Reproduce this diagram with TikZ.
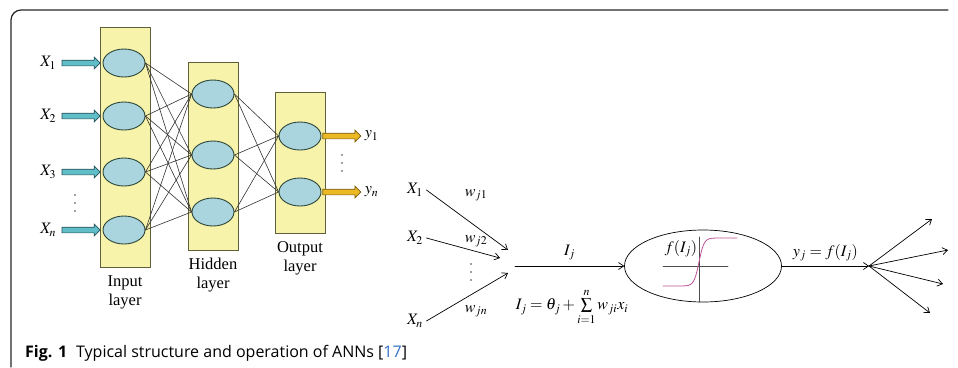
\documentclass[tikz,border=0pt]{standalone}
\usepackage{mathptmx}
\usepackage{fontspec}
\setmainfont{Liberation Serif}
\newfontfamily\captionfont{Open Sans}
\usetikzlibrary{arrows.meta, positioning, shapes.geometric, shapes.arrows}

\begin{document}
\begin{tikzpicture}[x=1pt, y=-1pt, line cap=round,
    %Style
    layer box/.style={draw=boxline, fill=boxfill, line width=0.9pt, minimum width=50pt},
    neuron/.style={ellipse, draw=cellline, fill=cellfill, line width=0.9pt,
                   minimum width=42pt, minimum height=28pt, inner sep=0pt},
    link/.style={draw=linkcolor, line width=0.6pt},
    in arrow/.style={single arrow, draw=inline, fill=infill, line width=0.7pt,
                     minimum height=38pt, minimum width=11pt, inner sep=2.5pt,
                     single arrow head extend=3pt},
    out arrow/.style={in arrow, draw=outline, fill=outfill},
    layer label/.style={align=center, font=\fontsize{16.5}{19}\selectfont},
    math label/.style={font=\fontsize{16}{18}\selectfont},
    dot/.style={circle, fill=black!75, inner sep=0pt, minimum size=1.6pt},
    signal/.style={line width=0.7pt, -{Straight Barb[length=5pt, width=7pt]}}]
    %Colors
    \definecolor{boxfill}{RGB}{248,243,170}
    \definecolor{boxline}{RGB}{95,95,60}
    \definecolor{cellfill}{RGB}{170,212,222}
    \definecolor{cellline}{RGB}{45,70,55}
    \definecolor{linkcolor}{RGB}{50,50,50}
    \definecolor{infill}{RGB}{95,190,200}
    \definecolor{inline}{RGB}{40,80,90}
    \definecolor{outfill}{RGB}{235,185,35}
    \definecolor{outline}{RGB}{120,90,20}
    \definecolor{sigcolor}{RGB}{190,80,150}
    \definecolor{citeblue}{RGB}{50,110,200}
    \colorlet{framecolor}{black!85}

    \useasboundingbox (0,0) rectangle (958,367);

    %Frame
    \draw[framecolor, line width=1.2pt, rounded corners=10pt]
      (11,367) -- (11,10) -- (948,10);

    %The layers
    \node[layer box, minimum height=240pt] (inbox) at (125,147) {};
    \node[layer box, minimum height=188pt] (hidbox) at (213,156) {};
    \node[layer box, minimum height=141pt] (outbox) at (300,163) {};

    \node[layer label, below=5pt of inbox] {Input\\layer};
    \node[layer label, below=4pt of hidbox] {Hidden\\layer};
    \node[layer label, below=4pt of outbox] {Output\\layer};

    %Neurons
    \foreach \i/\y in {1/63, 2/116, 3/172, 4/230}
      \node[neuron] (in\i) at (124,\y) {};
    \foreach \i/\y in {1/94, 2/155, 3/212}
      \node[neuron] (hid\i) at (213,\y) {};
    \foreach \i/\y in {1/136, 2/192}
      \node[neuron] (out\i) at (300,\y) {};

    %Weights
    \foreach \i in {1,...,4}
      \foreach \j in {1,...,3}
        \draw[link] (in\i.east) -- (hid\j.west);
    \foreach \j in {1,...,3}
      \foreach \k in {1,2}
        \draw[link] (hid\j.east) -- (out\k.west);

    %Inputs
    \foreach \i/\xtext in {1/X_1, 2/X_2, 3/X_3, 4/X_n} {
      \node[in arrow, left=2pt of in\i] (inarr\i) {};
      \node[math label, left=2pt of inarr\i] (xin\i) {$\xtext$};
    }
    \foreach \y in {195,203,211}
      \node[dot] at (75,\y) {};

    %Outputs
    \foreach \k/\ytext in {1/y_1, 2/y_n} {
      \node[out arrow, right=1pt of out\k] (outarr\k) {};
      \node[math label, right=0pt of outarr\k] (yout\k) {$\ytext$};
    }
    \foreach \y in {155,163,171}
      \node[dot] at (342,\y) {};

    %Single neuron
    \node[math label] (x1) at (415,190) {$X_1$};
    \node[math label] (x2) at (415,238) {$X_2$};
    \node[math label] (xn) at (415,321) {$X_n$};
    \foreach \y in {264,272,280}
      \node[dot] at (471,\y) {};

    \coordinate (s1) at (508,250);
    \coordinate (s2) at (500,258);
    \coordinate (sn) at (508,273);
    \coordinate (sum) at (515,266);

    \draw[signal] (x1.east) -- (s1);
    \draw[signal] (x2.east) -- (s2);
    \draw[signal] (xn.east) -- (sn);
    \node[math label] (w1) at (476,195) {$w_{j1}$};
    \node[math label] (w2) at (476,241) {$w_{j2}$};
    \node[math label] (wn) at (476,311) {$w_{jn}$};

    \node[ellipse, draw, line width=0.7pt, minimum width=157pt, minimum height=72pt]
      (cell) at (703,266) {};
    \draw[signal] (sum) -- node[math label, above=2pt] {$I_j$} (cell.west);
    \node[math label] (sumtext) at (572,307)
      {$I_j=\theta_j+\sum\limits_{i=1}^{n} w_{ji}x_i$};

    %Activation curve
    \draw[line width=0.8pt, black!70] (663,266) -- (728,266);
    \draw[line width=0.8pt, black!70] (699,237) -- (699,302);
    \draw[sigcolor, line width=0.8pt, domain=-36:38, samples=60, smooth]
      plot ({699+\x}, {262-24*tanh(\x/5)});
    \node[math label] (fI) at (681,249) {$f(I_j)$};

    %Output fan
    \coordinate (fan) at (869,266);
    \draw[signal] (cell.east) -- node[math label, above=1pt] {$y_j=f(I_j)$} (fan);
    \foreach \p in {(932,219), (948,250), (943,284), (930,313)}
      \draw[signal] (fan) -- \p;

    %Caption
    \node[anchor=base west, inner sep=0pt] (caption) at (25,357)
      {\captionfont\fontsize{16}{19}\selectfont\textbf{Fig. 1}\hspace{9pt}%
       Typical structure and operation of ANNs [\textcolor{citeblue}{17}]};
\end{tikzpicture}
\end{document}
